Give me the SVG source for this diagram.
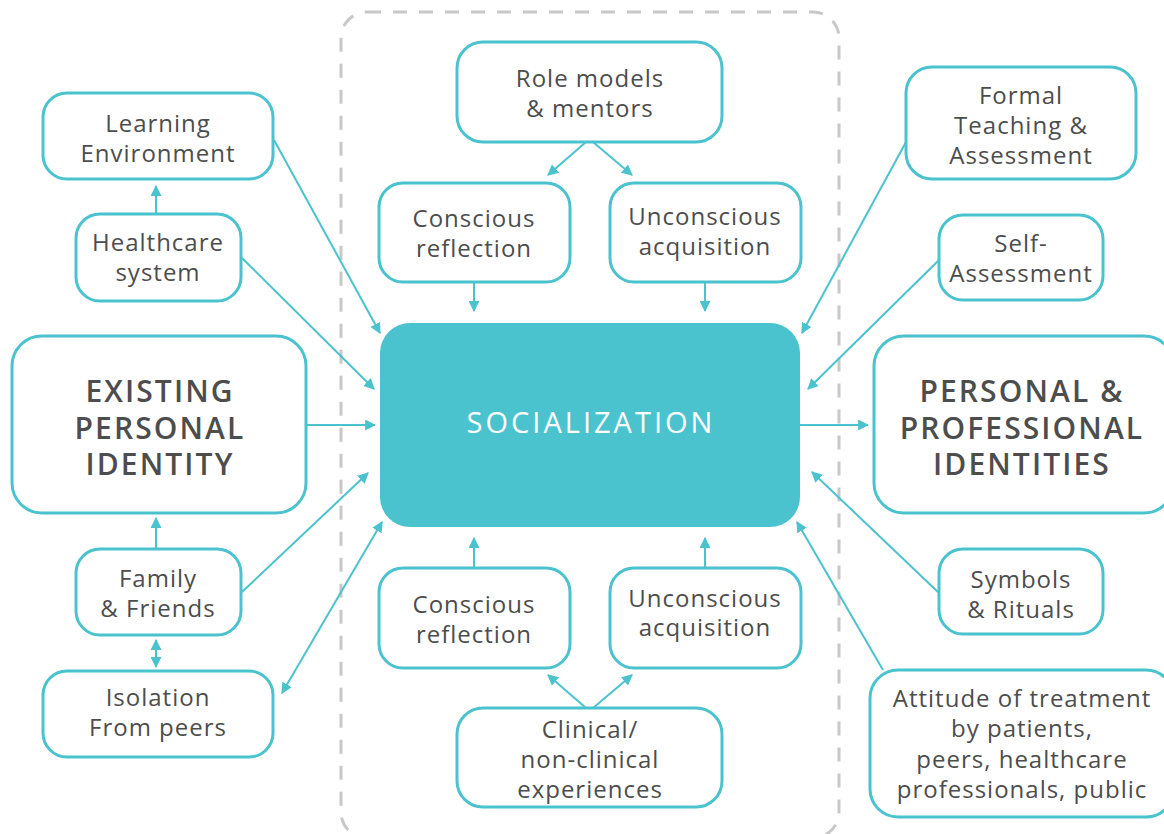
<svg xmlns="http://www.w3.org/2000/svg" width="1164" height="834" viewBox="0 0 1164 834">
  <style>
    .box { fill: #ffffff; stroke: #4bc3cf; stroke-width: 3; }
    .hub { fill: #4bc3cf; }
    .txt { font-family: "Open Sans", "Liberation Sans", sans-serif; font-size: 24px; fill: #4d4d4d; text-anchor: middle; letter-spacing: 1px; }
    .big { font-family: "Open Sans", "Liberation Sans", sans-serif; font-size: 30px; font-weight: 600; fill: #4d4d4d; text-anchor: middle; letter-spacing: 2.1px; }
    .hubtxt { font-family: "Open Sans", "Liberation Sans", sans-serif; font-size: 29px; font-weight: 500; fill: #ffffff; text-anchor: middle; letter-spacing: 3px; }
    .link { fill: none; stroke: #4bc3cf; stroke-width: 2; }
    .frame { fill: none; stroke: #c8c8c8; stroke-width: 3; stroke-dasharray: 14 12; }
  </style>
  <defs>
    <marker id="arrow" viewBox="0 0 10 10" refX="9" refY="5" markerWidth="11" markerHeight="11" markerUnits="userSpaceOnUse" orient="auto-start-reverse">
      <path d="M0,0 L10,5 L0,10 Z" fill="#4bc3cf"/>
    </marker>
  </defs>

  <!-- dashed boundary around the socialization core -->
  <rect class="frame" x="341" y="12" width="498" height="826" rx="26"/>

  <!-- connectors -->
  <g id="connectors">
    <line class="link" x1="586" y1="142" x2="548" y2="175" marker-end="url(#arrow)"/>
    <line class="link" x1="593" y1="142" x2="632" y2="175" marker-end="url(#arrow)"/>
    <line class="link" x1="474" y1="282" x2="474" y2="311" marker-end="url(#arrow)"/>
    <line class="link" x1="705" y1="282" x2="705" y2="311" marker-end="url(#arrow)"/>
    <line class="link" x1="474" y1="568" x2="474" y2="538" marker-end="url(#arrow)"/>
    <line class="link" x1="705" y1="568" x2="705" y2="538" marker-end="url(#arrow)"/>
    <line class="link" x1="586" y1="708" x2="548" y2="675" marker-end="url(#arrow)"/>
    <line class="link" x1="593" y1="708" x2="632" y2="675" marker-end="url(#arrow)"/>

    <line class="link" x1="156" y1="214" x2="156" y2="186" marker-end="url(#arrow)"/>
    <line class="link" x1="274" y1="140" x2="380" y2="333" marker-end="url(#arrow)"/>
    <line class="link" x1="242" y1="258" x2="374" y2="389" marker-end="url(#arrow)"/>
    <line class="link" x1="306" y1="425" x2="375" y2="425" marker-end="url(#arrow)"/>
    <line class="link" x1="156" y1="549" x2="156" y2="518" marker-end="url(#arrow)"/>
    <line class="link" x1="242" y1="592" x2="368" y2="473" marker-end="url(#arrow)"/>
    <line class="link" x1="156" y1="640" x2="156" y2="667" marker-start="url(#arrow)" marker-end="url(#arrow)"/>
    <line class="link" x1="282" y1="693" x2="382" y2="522" marker-start="url(#arrow)" marker-end="url(#arrow)"/>

    <line class="link" x1="906" y1="142" x2="802" y2="333" marker-end="url(#arrow)"/>
    <line class="link" x1="939" y1="260" x2="808" y2="389" marker-end="url(#arrow)"/>
    <line class="link" x1="800" y1="425" x2="868" y2="425" marker-end="url(#arrow)"/>
    <line class="link" x1="939" y1="593" x2="812" y2="472" marker-end="url(#arrow)"/>
    <line class="link" x1="883" y1="670" x2="797" y2="522" marker-end="url(#arrow)"/>
  </g>

  <g id="socialization">
    <rect class="hub" x="380" y="323" width="420" height="204" rx="30"/>
    <text class="hubtxt" x="591" y="433">SOCIALIZATION</text>
  </g>

  <g id="role-models">
    <rect class="box" x="457" y="42" width="265" height="100" rx="26"/>
    <text class="txt" x="590" y="87">Role models</text>
    <text class="txt" x="590" y="117">&amp; mentors</text>
  </g>
  <g id="conscious-top">
    <rect class="box" x="379" y="183" width="191" height="99" rx="24"/>
    <text class="txt" x="474" y="227">Conscious</text>
    <text class="txt" x="474" y="257">reflection</text>
  </g>
  <g id="unconscious-top">
    <rect class="box" x="610" y="183" width="191" height="99" rx="24"/>
    <text class="txt" x="705" y="225">Unconscious</text>
    <text class="txt" x="705" y="255">acquisition</text>
  </g>
  <g id="conscious-bottom">
    <rect class="box" x="379" y="568" width="191" height="100" rx="24"/>
    <text class="txt" x="474" y="613">Conscious</text>
    <text class="txt" x="474" y="643">reflection</text>
  </g>
  <g id="unconscious-bottom">
    <rect class="box" x="610" y="568" width="191" height="100" rx="24"/>
    <text class="txt" x="705" y="607">Unconscious</text>
    <text class="txt" x="705" y="636">acquisition</text>
  </g>
  <g id="clinical">
    <rect class="box" x="457" y="708" width="265" height="99" rx="26"/>
    <text class="txt" x="590" y="738">Clinical/</text>
    <text class="txt" x="590" y="768">non-clinical</text>
    <text class="txt" x="590" y="798">experiences</text>
  </g>

  <g id="learning-environment">
    <rect class="box" x="43" y="93" width="230" height="86" rx="24"/>
    <text class="txt" x="158" y="132">Learning</text>
    <text class="txt" x="158" y="162">Environment</text>
  </g>
  <g id="healthcare-system">
    <rect class="box" x="76" y="214" width="165" height="87" rx="24"/>
    <text class="txt" x="158" y="251">Healthcare</text>
    <text class="txt" x="158" y="281">system</text>
  </g>
  <g id="existing-identity">
    <rect class="box" x="12" y="336" width="294" height="177" rx="30"/>
    <text class="big" x="160" y="402">EXISTING</text>
    <text class="big" x="160" y="439">PERSONAL</text>
    <text class="big" x="160" y="475">IDENTITY</text>
  </g>
  <g id="family-friends">
    <rect class="box" x="76" y="549" width="165" height="86" rx="24"/>
    <text class="txt" x="158" y="587">Family</text>
    <text class="txt" x="158" y="617">&amp; Friends</text>
  </g>
  <g id="isolation">
    <rect class="box" x="43" y="671" width="230" height="86" rx="24"/>
    <text class="txt" x="158" y="706">Isolation</text>
    <text class="txt" x="158" y="736">From peers</text>
  </g>

  <g id="formal-teaching">
    <rect class="box" x="906" y="67" width="230" height="112" rx="26"/>
    <text class="txt" x="1021" y="104">Formal</text>
    <text class="txt" x="1021" y="134">Teaching &amp;</text>
    <text class="txt" x="1021" y="164">Assessment</text>
  </g>
  <g id="self-assessment">
    <rect class="box" x="939" y="215" width="164" height="85" rx="24"/>
    <text class="txt" x="1021" y="252">Self-</text>
    <text class="txt" x="1021" y="282">Assessment</text>
  </g>
  <g id="professional-identities">
    <rect class="box" x="874" y="336" width="300" height="177" rx="30"/>
    <text class="big" x="1022" y="402">PERSONAL &amp;</text>
    <text class="big" x="1022" y="439">PROFESSIONAL</text>
    <text class="big" x="1022" y="475">IDENTITIES</text>
  </g>
  <g id="symbols-rituals">
    <rect class="box" x="939" y="549" width="164" height="85" rx="24"/>
    <text class="txt" x="1021" y="588">Symbols</text>
    <text class="txt" x="1021" y="618">&amp; Rituals</text>
  </g>
  <g id="attitude">
    <rect class="box" x="870" y="670" width="304" height="147" rx="28"/>
    <text class="txt" x="1022" y="707">Attitude of treatment</text>
    <text class="txt" x="1022" y="737">by patients,</text>
    <text class="txt" x="1022" y="768">peers, healthcare</text>
    <text class="txt" x="1022" y="798">professionals, public</text>
  </g>
</svg>
